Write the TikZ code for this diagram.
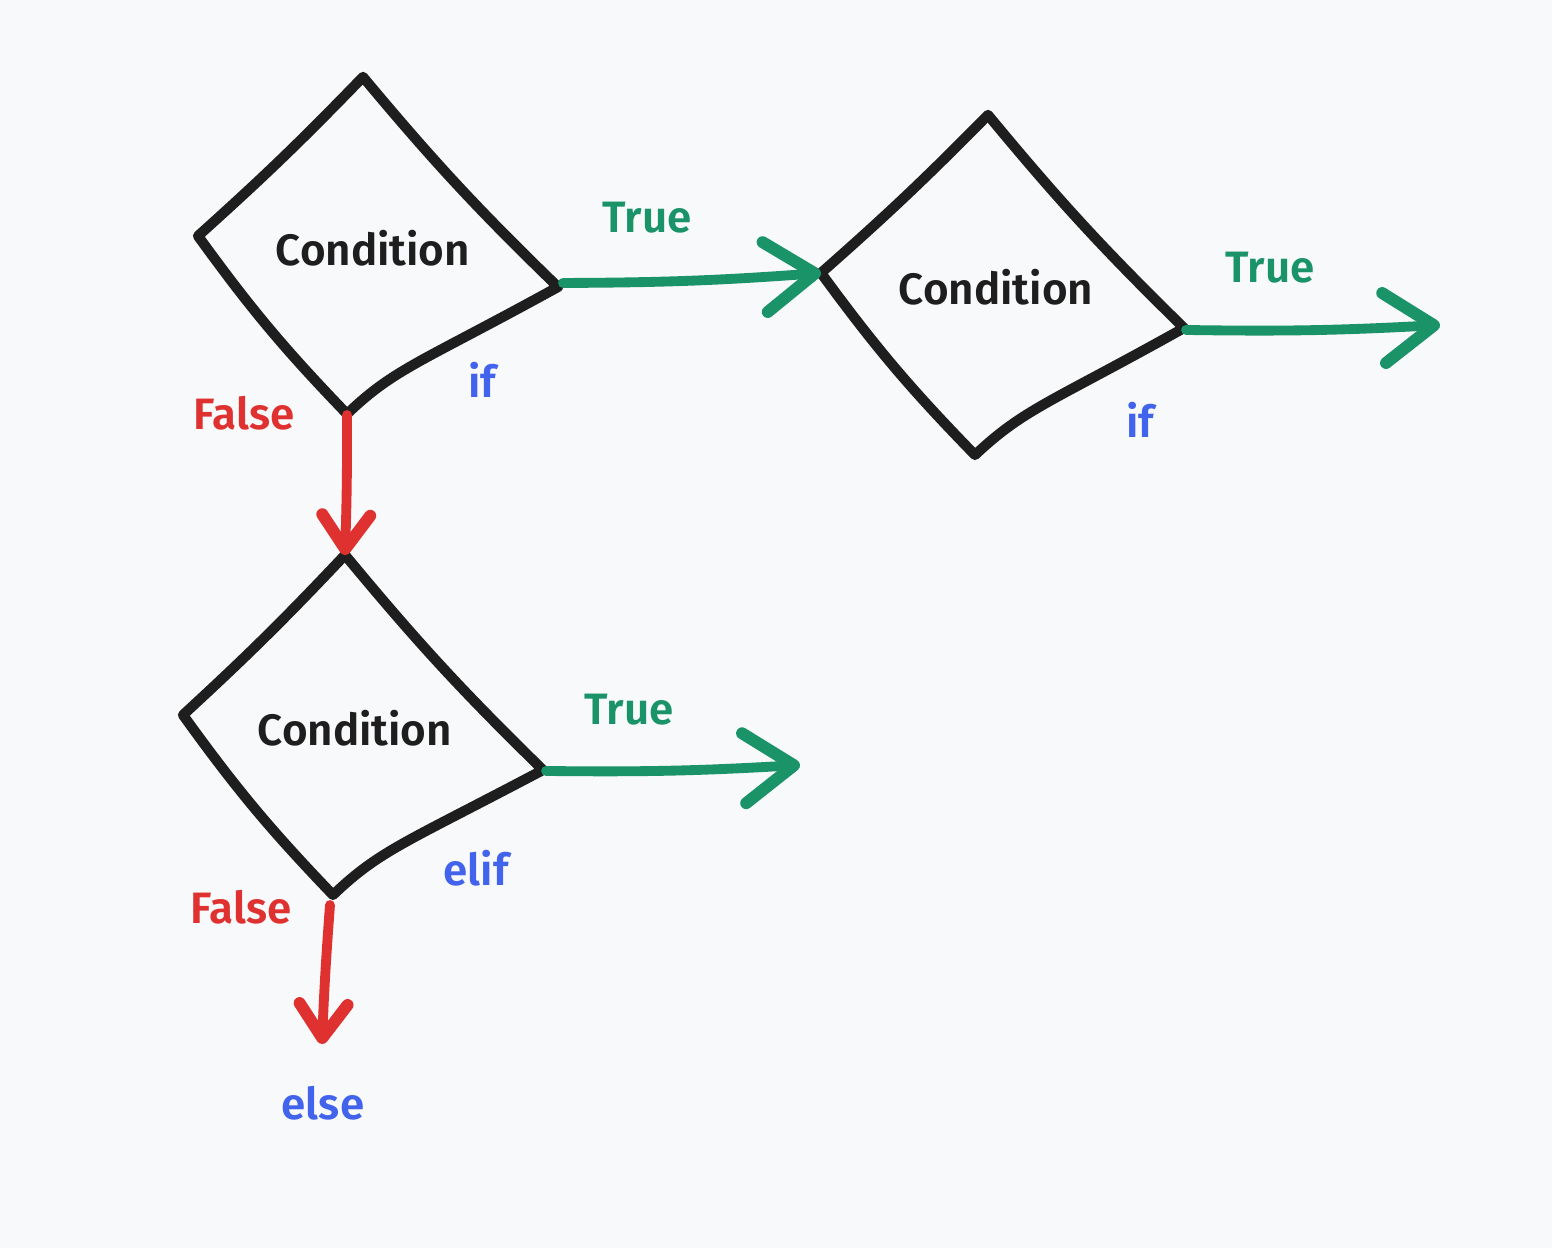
\documentclass[tikz,border=0pt]{standalone}
\usepackage{fontspec}
\setmainfont{Fira Sans}[BoldFont={Fira Sans SemiBold}]
\usepackage{tikz}
\usetikzlibrary{arrows.meta}

\definecolor{bgpaper}{HTML}{F8F9FA}
\definecolor{inkblack}{HTML}{1E1E1E}
\definecolor{truegreen}{HTML}{1A9369}
\definecolor{falsered}{HTML}{E03131}
\definecolor{kwblue}{HTML}{4263EB}

\begin{document}
\begin{tikzpicture}[
    cond/.style = {font=\fontsize{12.5}{15}\selectfont\bfseries, text=inkblack},
    lbl/.style = {font=\fontsize{12.5}{15}\selectfont\bfseries},
    rhomb/.style = {draw=inkblack, line width=2.9pt, line cap=round, line join=round},
    yes/.style = {draw=truegreen, line width=2.8pt, line cap=round,
        -{Straight Barb[length=5mm, width=7mm, round, line width=3.4pt]}},
    no/.style = {draw=falsered, line width=2.8pt, line cap=round,
        -{Straight Barb[length=3.4mm, width=4.8mm, round, line width=3.4pt]}}]
    \useasboundingbox[fill=bgpaper] (0,0) rectangle (15.52,12.48);

    % first condition (if)
    \coordinate (d1-t) at (3.63,11.71);
    \coordinate (d1-l) at (1.98,10.12);
    \coordinate (d1-b) at (3.47,8.34);
    \coordinate (d1-r) at (5.58,9.61);
    \draw[rhomb] (d1-t) to[bend left=2] (d1-l) to[bend right=4] (d1-b)
        .. controls (3.95,8.80) and (4.20,8.85) .. (d1-r) to[bend left=3] (d1-t);
    \node[cond] (c1) at (3.73,10.00) {Condition};

    % second condition (if)
    \coordinate (d2-t) at (9.88,11.33);
    \coordinate (d2-l) at (8.21,9.75);
    \coordinate (d2-b) at (9.75,7.93);
    \coordinate (d2-r) at (11.84,9.20);
    \draw[rhomb] (d2-t) to[bend left=2] (d2-l) to[bend right=4] (d2-b)
        .. controls (10.25,8.40) and (10.50,8.45) .. (d2-r) to[bend left=3] (d2-t);
    \node[cond] (c2) at (9.96,9.61) {Condition};

    % third condition (elif)
    \coordinate (d3-t) at (3.45,6.93);
    \coordinate (d3-l) at (1.83,5.33);
    \coordinate (d3-b) at (3.33,3.53);
    \coordinate (d3-r) at (5.43,4.78);
    \draw[rhomb] (d3-t) to[bend left=2] (d3-l) to[bend right=4] (d3-b)
        .. controls (3.80,3.98) and (4.05,4.05) .. (d3-r) to[bend left=3] (d3-t);
    \node[cond] (c3) at (3.55,5.20) {Condition};

    % arrow ends
    \coordinate (d1-out) at (5.63,9.65);
    \coordinate (d2-out) at (11.86,9.18);
    \coordinate (d3-out) at (5.46,4.77);
    \coordinate (d1-down) at (3.47,8.33);
    \coordinate (d3-down) at (3.30,3.43);
    \coordinate (e2) at (14.40,9.23);
    \coordinate (e3) at (8.00,4.83);
    \coordinate (e4) at (3.22,2.04);

    % connectors
    \draw[yes] (d1-out) to[bend right=2] (d2-l);
    \draw[yes] (d2-out) to[bend right=2] (e2);
    \draw[yes] (d3-out) to[bend right=2] (e3);
    \draw[no] (d1-down) to[bend left=1] (d3-t);
    \draw[no] (d3-down) to[bend right=1] (e4);

    % labels
    \node[lbl, text=truegreen] (t1) at (6.47,10.30) {True};
    \node[lbl, text=truegreen] (t2) at (12.70,9.80) {True};
    \node[lbl, text=truegreen] (t3) at (6.29,5.38) {True};
    \node[lbl, text=kwblue] (k1) at (4.82,8.68) {if};
    \node[lbl, text=kwblue] (k2) at (11.40,8.28) {if};
    \node[lbl, text=kwblue] (k3) at (4.76,3.80) {elif};
    \node[lbl, text=kwblue] (k4) at (3.23,1.45) {else};
    \node[lbl, text=falsered] (f1) at (2.44,8.35) {False};
    \node[lbl, text=falsered] (f2) at (2.41,3.41) {False};
\end{tikzpicture}
\end{document}
